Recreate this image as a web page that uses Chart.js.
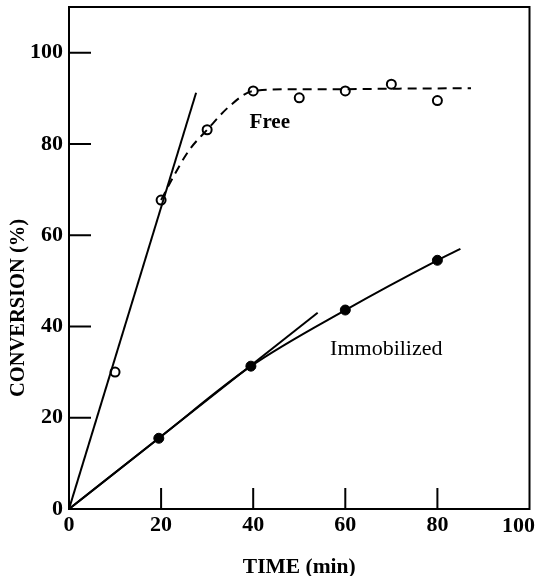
<!DOCTYPE html>
<html lang="en">
<head>
<meta charset="UTF-8">
<title>Conversion vs time</title>
<script src="https://cdn.jsdelivr.net/npm/chart.js"></script>
<style>
  html, body { margin: 0; padding: 0; background: #fff; }
  #wrap { width: 536px; height: 576px; }
</style>
</head>
<body>
<div id="wrap"><canvas id="chart" width="536" height="576"></canvas></div>
<script>
const xTicks = [0, 20, 40, 60, 80, 100];
const yTicks = [0, 20, 40, 60, 80, 100];

// measured points
const freeTime = [10, 20, 30, 40, 50, 60, 70, 80];
const freeConv = [30, 67.7, 83.1, 91.6, 90.1, 91.6, 93.1, 89.5];
const immTime = [19.5, 39.5, 60, 80];
const immConv = [15.5, 31.3, 43.6, 54.5];

// hand drawn curves
const freeCurveX = [20, 22.5, 26, 30, 35, 40, 50, 60, 70, 87.3];
const freeCurveY = [67.7, 72.5, 78.5, 83.1, 88.4, 91.6, 92, 92, 92.1, 92.2];
const immCurveX = [0, 19.5, 39.5, 60, 80, 85];
const immCurveY = [0, 15.5, 31.3, 43.6, 54.5, 57];

// initial rate tangents
const freeTanX = [0, 27.6];
const freeTanY = [0, 91.2];
const immTanX = [0, 54];
const immTanY = [0, 43];

const noteText = ['Free', 'Immobilized'];
const noteX = [43.6, 68.9];
const noteY = [84.6, 35];

const serif = '"Liberation Serif", "Times New Roman", serif';
const noteFont = ['bold 21px ' + serif, '22px ' + serif];

function pts(xs, ys) {
    return xs.map((x, i) => ({ x: x, y: ys[i] }));
}

// box, inward ticks, y title, last x label and the two notes
const framePlugin = {
    id: 'frame',
    afterDraw(chart) {
        const ctx = chart.ctx;
        const a = chart.chartArea;
        const xs = chart.scales.x;
        const ys = chart.scales.y;
        ctx.save();
        ctx.strokeStyle = '#000';
        ctx.lineWidth = 2;
        ctx.strokeRect(a.left, a.top, a.right - a.left, a.bottom - a.top);

        ctx.beginPath();
        xTicks.forEach(v => {
            if (v === 0 || v === 100) return;
            const px = xs.getPixelForValue(v);
            ctx.moveTo(px, a.bottom);
            ctx.lineTo(px, a.bottom - 21);
        });
        yTicks.forEach(v => {
            if (v === 0) return;
            const py = ys.getPixelForValue(v);
            ctx.moveTo(a.left, py);
            ctx.lineTo(a.left + 22, py);
        });
        ctx.stroke();

        ctx.fillStyle = '#000';
        ctx.textBaseline = 'middle';

        // last x label is pushed in so it fits the page
        ctx.font = 'bold 22px ' + serif;
        ctx.textAlign = 'right';
        ctx.fillText(String(xTicks[xTicks.length - 1]), chart.width - 1, a.bottom + 17);

        ctx.textAlign = 'center';
        noteText.forEach((t, i) => {
            ctx.font = noteFont[i];
            ctx.fillText(t, xs.getPixelForValue(noteX[i]), ys.getPixelForValue(noteY[i]));
        });

        // y title
        ctx.font = 'bold 20.5px ' + serif;
        ctx.translate(19, 308);
        ctx.rotate(-Math.PI / 2);
        ctx.fillText('CONVERSION (%)', 0, 0);
        ctx.restore();
    }
};

const ctx = document.getElementById('chart').getContext('2d');
new Chart(ctx, {
    type: 'scatter',
    data: {
        datasets: [
            {
                data: pts(freeCurveX, freeCurveY),
                showLine: true,
                borderColor: '#000',
                borderWidth: 2,
                borderDash: [9, 6],
                pointRadius: 0,
                cubicInterpolationMode: 'monotone'
            },
            {
                data: pts(freeTanX, freeTanY),
                showLine: true,
                borderColor: '#000',
                borderWidth: 2,
                pointRadius: 0
            },
            {
                data: pts(immCurveX, immCurveY),
                showLine: true,
                borderColor: '#000',
                borderWidth: 2,
                pointRadius: 0,
                cubicInterpolationMode: 'monotone'
            },
            {
                data: pts(immTanX, immTanY),
                showLine: true,
                borderColor: '#000',
                borderWidth: 2,
                pointRadius: 0
            },
            {
                data: pts(freeTime, freeConv),
                pointRadius: 4.5,
                pointBorderWidth: 2,
                pointBorderColor: '#000',
                pointBackgroundColor: '#fff'
            },
            {
                data: pts(immTime, immConv),
                pointRadius: 5,
                pointBorderWidth: 1,
                pointBorderColor: '#000',
                pointBackgroundColor: '#000'
            }
        ]
    },
    options: {
        responsive: false,
        animation: false,
        layout: { padding: { top: 7, right: 5, left: 0, bottom: 0 } },
        plugins: {
            legend: { display: false },
            tooltip: { enabled: false }
        },
        scales: {
            x: {
                type: 'linear',
                min: 0,
                max: 100,
                afterBuildTicks: s => { s.ticks = xTicks.map(v => ({ value: v })); },
                afterFit: s => { s.paddingLeft = 0; s.paddingRight = 0; s.height = 67; },
                grid: { display: false, drawTicks: false },
                border: { display: false },
                ticks: {
                    padding: 3,
                    color: '#000',
                    font: { family: serif, size: 22, weight: 'bold' },
                    callback: v => (v === 100 ? '' : String(v))
                },
                title: {
                    display: true,
                    text: 'TIME (min)',
                    color: '#000',
                    padding: { top: 12, bottom: -2 },
                    font: { family: serif, size: 21.5, weight: 'bold', lineHeight: 1 }
                }
            },
            y: {
                type: 'linear',
                min: 0,
                max: 110,
                afterBuildTicks: s => { s.ticks = yTicks.map(v => ({ value: v })); },
                afterFit: s => { s.width = 69; s.paddingTop = 0; s.paddingBottom = 0; },
                grid: { display: false, drawTicks: false },
                border: { display: false },
                ticks: {
                    padding: 6,
                    color: '#000',
                    font: { family: serif, size: 22, weight: 'bold' }
                }
            }
        }
    },
    plugins: [framePlugin]
});
</script>
</body>
</html>
